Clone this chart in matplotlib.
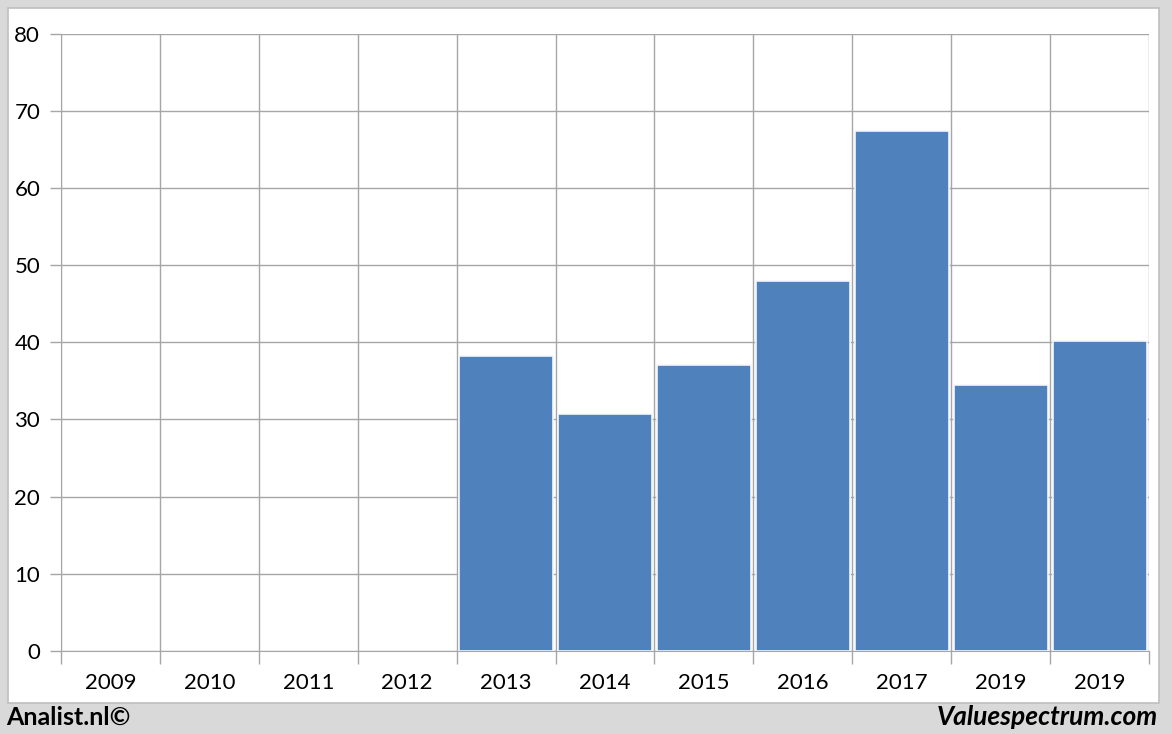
import numpy as np
import matplotlib
matplotlib.use('Agg')
import matplotlib.pyplot as plt
from matplotlib.patches import Rectangle

years = ['2009', '2010', '2011', '2012', '2013', '2014', '2015', '2016', '2017', '2019', '2019']
values = [np.nan, np.nan, np.nan, np.nan, 38.2, 30.7, 37.0, 47.9, 67.4, 34.4, 40.1]
yticks = [0, 10, 20, 30, 40, 50, 60, 70, 80]

plt.rcParams['font.family'] = ['Lato', 'DejaVu Sans']

W, H = 1172, 734
fig = plt.figure(figsize=(W / 100, H / 100), dpi=100, facecolor='#d9d9d9')

# white panel behind the chart
fig.patches.append(Rectangle((8 / W, (H - 703) / H), (1159 - 8) / W, (703 - 8) / H,
                             transform=fig.transFigure, facecolor='white',
                             edgecolor='#bfbfbf', linewidth=1.2, zorder=0))

ax = fig.add_axes([61 / W, (H - 651) / H, (1149 - 61) / W, (651 - 33.5) / H])
ax.set_zorder(2)
ax.set_facecolor('none')

x = np.arange(len(years))
ax.bar(x, values, width=0.95, color='#4f81bd', edgecolor='#f2f6fb', linewidth=1.2, zorder=3)

ax.set_xlim(-0.5, len(years) - 0.5)
ax.set_ylim(0, 80)
ax.set_yticks(yticks)
ax.set_xticks(x)
ax.set_xticklabels(years)
ax.set_xticks(np.arange(len(years) + 1) - 0.5, minor=True)

grid_c = '#a6a6a6'
ax.grid(axis='y', which='major', color=grid_c, linewidth=1, zorder=0)
ax.grid(axis='x', which='minor', color=grid_c, linewidth=1, zorder=0)
ax.tick_params(axis='x', which='major', length=0, labelsize=16, pad=16, colors='black')
ax.tick_params(axis='x', which='minor', length=9, color=grid_c, width=1)
ax.tick_params(axis='y', length=8, color=grid_c, width=1, labelsize=16, pad=7)

for s in ['top', 'right']:
    ax.spines[s].set_visible(False)
for s in ['left', 'bottom']:
    ax.spines[s].set_color(grid_c)

fig.text(6 / W, 1 - 717 / H, 'Analist.nl©', fontsize=18, fontweight='bold',
         ha='left', va='center')
fig.text(1158 / W, 1 - 717 / H, 'Valuespectrum.com', fontsize=19, fontweight='bold',
         fontstyle='italic', ha='right', va='center')

fig.savefig('out.png', dpi=100, facecolor=fig.get_facecolor())
